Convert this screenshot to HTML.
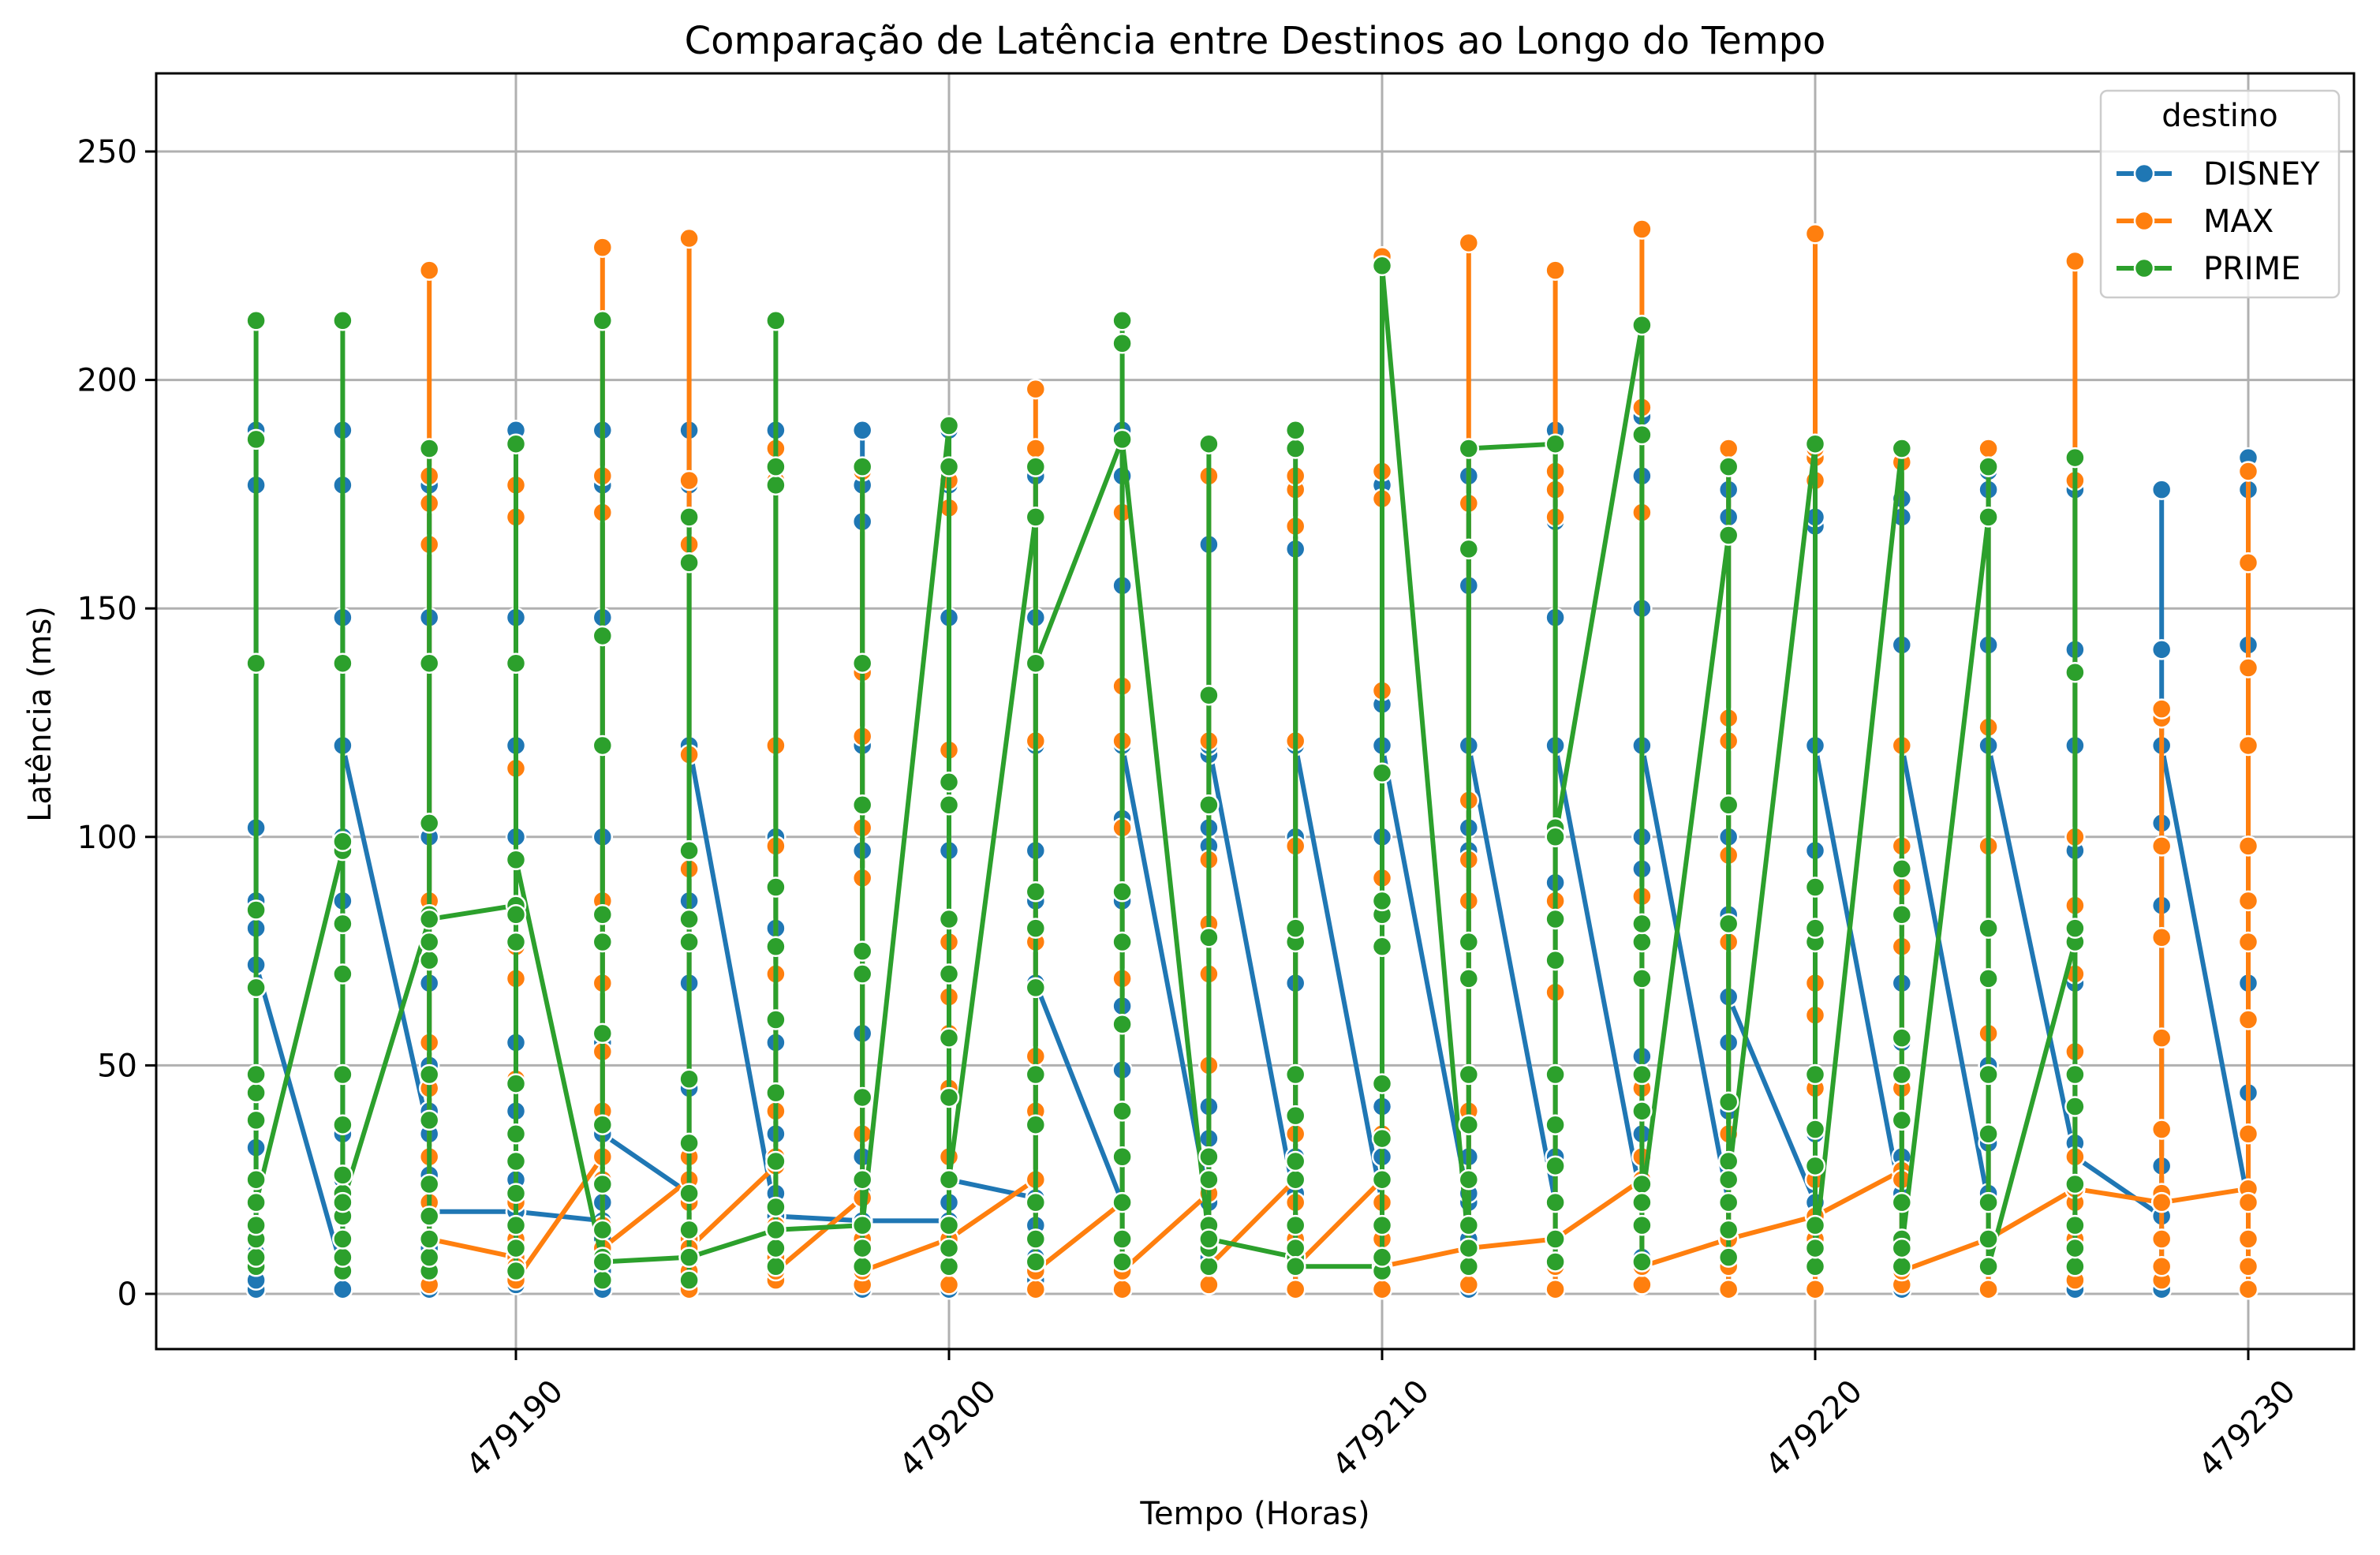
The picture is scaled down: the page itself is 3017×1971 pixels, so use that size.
<!DOCTYPE html>
<html><head><meta charset="utf-8"><style>
html,body{margin:0;padding:0;background:#fff;}
svg{display:block;font-family:"DejaVu Sans","Liberation Sans",sans-serif;}
</style></head><body>
<svg id="chart" width="3017" height="1971" viewBox="0 0 3017 1971" xmlns="http://www.w3.org/2000/svg">
<rect width="3017" height="1971" fill="#fff"/>
<g id="grid"></g>
<g id="series"></g>
<rect x="198" y="93" width="2786" height="1617" fill="none" stroke="#000" stroke-width="3"/>
<g id="ticks"></g>
<text x="1591" y="68" font-size="48" text-anchor="middle">Comparação de Latência entre Destinos ao Longo do Tempo</text>
<text x="1591" y="1932" font-size="40" text-anchor="middle">Tempo (Horas)</text>
<text x="0" y="0" font-size="40" text-anchor="middle" transform="translate(64,905) rotate(-90)">Latência (ms)</text>
<g id="legend"></g>
</svg>
<script>
const hours = [479184,479186,479188,479190,479192,479194,479196,479198,479200,479202,479204,479206,479208,479210,479212,479214,479216,479218,479220,479222,479224,479226,479228,479230];
const yTicks = [0,50,100,150,200,250];
const xTicks = [479190,479200,479210,479220,479230];
const seriesNames = ["DISNEY","MAX","PRIME"];
const disneyValues = [
[1,3,6,9,12,15,20,25,32,48,67,80,86,102,177,189,72],
[5,1,8,12,18,25,35,48,70,86,100,148,177,189,120],
[35,1,5,10,18,26,40,50,68,100,148,177,18],
[18,2,8,15,25,40,47,55,100,120,148,177,189,18],
[16,1,5,12,20,30,55,68,100,148,177,189,35],
[22,2,6,12,20,30,45,68,86,120,177,189,120],
[17,3,8,14,22,35,55,80,100,120,177,189,17],
[16,1,5,12,22,30,57,97,120,169,177,189,16],
[16,1,6,12,20,30,45,97,148,177,189,25],
[21,3,8,15,25,40,68,86,97,120,148,179,68],
[20,1,6,12,20,40,49,63,86,104,155,179,189,120],
[20,2,8,15,25,34,41,70,98,102,118,164,120],
[20,1,6,12,22,30,68,98,100,120,163,177,120],
[20,1,6,12,20,30,41,100,120,129,177,120],
[20,1,6,12,22,30,97,102,120,155,179,120],
[20,1,6,12,20,30,86,90,120,148,169,189,120],
[20,2,8,15,25,35,52,93,100,120,150,179,192,120],
[20,1,6,12,25,40,55,65,83,100,170,176,65],
[20,1,6,12,25,35,97,120,168,170,185,120],
[20,1,6,12,22,30,55,68,120,142,170,174,120],
[20,1,6,12,22,33,50,120,142,176,180,120],
[30,1,6,12,20,33,68,97,120,141,176,30],
[17,1,6,12,20,28,85,103,120,141,176,120],
[20,1,6,12,20,44,68,98,142,176,183]
];
const maxValues = [
null,null,
[2,5,8,12,20,30,45,55,86,164,173,179,224,12],
[8,6,12,20,35,47,69,76,115,170,177,3],
[30,3,8,15,25,40,53,68,86,171,179,229,10],
[25,1,5,12,20,30,93,118,164,178,231,10],
[28,3,8,15,30,40,70,98,120,178,185,5],
[21,2,6,12,25,35,75,91,102,122,136,180,5],
[12,2,6,15,30,45,57,65,77,119,172,178,12],
[25,1,6,12,25,40,52,77,121,185,198,5],
[20,1,6,12,20,40,69,102,121,133,171,5],
[22,2,6,15,30,50,70,81,95,121,179,6],
[25,1,6,12,20,35,98,121,168,176,179,6],
[25,1,6,12,20,35,76,91,132,174,180,227,6],
[10,2,6,15,25,40,86,95,108,173,230,10],
[12,1,6,12,20,28,66,86,170,176,180,224,12],
[25,2,6,15,30,45,87,171,194,233,6],
[12,1,6,12,20,35,77,96,121,126,185,12],
[17,1,6,12,25,45,61,68,178,183,185,232,17],
[27,2,6,12,25,45,76,89,98,120,182,5],
[12,1,6,12,20,35,57,98,124,185,12],
[23,3,6,12,20,30,53,70,85,100,178,226,23],
[20,3,6,12,22,36,56,78,98,126,128,20],
[23,1,6,12,20,35,60,77,86,98,120,137,160,180]
];
const primeValues = [
[138,6,8,12,15,20,25,38,44,48,67,84,187,213,20],
[97,5,8,12,17,22,26,37,48,70,81,99,138,213,20],
[82,5,8,12,17,24,38,48,73,77,83,103,138,185,82],
[85,5,10,15,22,29,35,46,77,83,95,138,186,95],
[7,3,8,14,24,37,57,77,83,120,144,213,7],
[8,3,8,14,22,33,47,77,82,97,160,170,8],
[14,6,10,19,29,44,60,76,89,177,181,213,14],
[15,6,10,15,25,43,70,75,107,138,181,15],
[190,6,10,15,25,43,56,70,82,107,112,181,25],
[170,7,12,20,37,48,67,80,88,181,138],
[187,7,12,20,30,40,59,77,88,208,213,187],
[12,6,10,15,25,30,78,107,131,186,12],
[8,6,10,15,25,29,39,48,77,80,185,189,6],
[6,5,8,15,25,34,46,76,83,86,114,225],
[10,6,10,15,25,37,48,69,77,163,185],
[186,7,12,20,28,37,48,73,82,102,100],
[212,7,15,24,40,48,69,77,81,188,20],
[166,8,14,20,29,42,81,107,181,25],
[186,6,10,15,28,36,48,77,80,89,10],
[185,6,12,20,38,48,56,83,93,10],
[170,6,12,20,35,48,69,80,181,6],
[77,6,10,15,24,41,48,80,136,183],
null,null
];
const colors = ["#1f77b4","#ff7f0e","#2ca02c"];
const NS = "http://www.w3.org/2000/svg";
const X0=198, X1=2984, Y0=93, Y1=1710;
function xs(h){ return 654 + (h-479190)*54.9; }
function ys(v){ return 1640 - v*5.792; }
function mk(tag, attrs, parent){ const e=document.createElementNS(NS,tag); for(const k in attrs) e.setAttribute(k,attrs[k]); parent.appendChild(e); return e; }
const grid=document.getElementById('grid'), ticks=document.getElementById('ticks'), ser=document.getElementById('series'), leg=document.getElementById('legend');
yTicks.forEach(v=>{
  const g=mk('line',{x1:X0,x2:X1,y1:ys(v),y2:ys(v),stroke:'#b0b0b0','stroke-width':3},grid);
  
  
  const t=mk('line',{x1:X0-14,x2:X0,y1:ys(v),y2:ys(v),stroke:'#000','stroke-width':3},ticks);
  
  
  const l=mk('text',{x:X0-24,y:ys(v)+14,'font-size':40,'text-anchor':'end'},ticks);
  l.textContent=v;
  
  
});
xTicks.forEach(h=>{
  const g=mk('line',{x1:xs(h),x2:xs(h),y1:Y0,y2:Y1,stroke:'#b0b0b0','stroke-width':3},grid);
  
  
  const t=mk('line',{x1:xs(h),x2:xs(h),y1:Y1,y2:Y1+14,stroke:'#000','stroke-width':3},ticks);
  
  
  const cx=xs(h)-2, cy=1810;
  const l=mk('text',{x:cx,y:cy+14,'font-size':40,'text-anchor':'middle',transform:`rotate(-45 ${cx} ${cy})`},ticks);
  l.textContent=h;
  
  
});
[disneyValues,maxValues,primeValues].forEach((data,si)=>{
  const g=mk('g',{},ser);
  
  
  let pts=[];
  data.forEach((arr,i)=>{ if(!arr) return; arr.forEach(v=>pts.push([xs(hours[i]),ys(v)])); });
  const line=mk('polyline',{points:pts.map(p=>p.join(',')).join(' '),fill:'none',stroke:colors[si],'stroke-width':6,'stroke-linejoin':'round'},g);
  
  
  pts.forEach(p=>{
    const c=mk('circle',{cx:p[0],cy:p[1],r:12,fill:colors[si],stroke:'#fff','stroke-width':2.5},g);
    
    
  });
});
const box=mk('rect',{x:2663,y:115,width:302,height:262,rx:8,fill:'#fff','fill-opacity':0.8,stroke:'#ccc','stroke-width':2.5},leg);


const lt=mk('text',{x:2814,y:160,'font-size':40,'text-anchor':'middle'},leg);
lt.textContent='destino';


seriesNames.forEach((n,i)=>{
  const y=220+i*60;
  const g=mk('g',{},leg);
  
  
  mk('line',{x1:2683,x2:2753,y1:y,y2:y,stroke:colors[i],'stroke-width':6},g);
  mk('circle',{cx:2718,cy:y,r:12,fill:colors[i],stroke:'#fff','stroke-width':2.5},g);
  const t=mk('text',{x:2793,y:y+14,'font-size':40},g);
  t.textContent=n;
});
</script>
</body></html>
